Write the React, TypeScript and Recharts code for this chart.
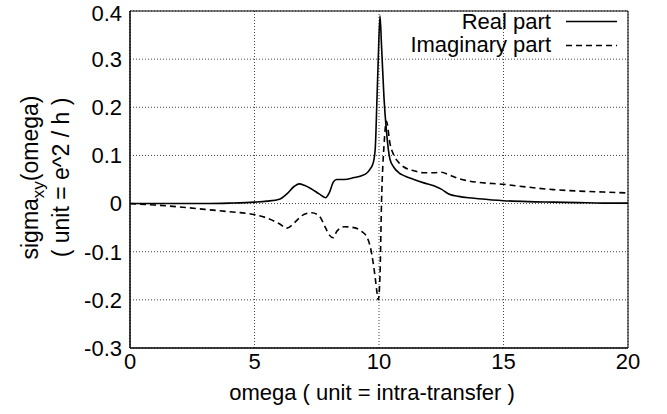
import {
  LineChart,
  Line,
  XAxis,
  YAxis,
  CartesianGrid,
  Legend,
  ReferenceArea,
} from 'recharts';

const omega = [
  0, 1, 2, 3, 4, 5, 5.5, 6, 6.3, 6.6, 6.8, 7.0, 7.3, 7.6, 7.85, 8.0, 8.17, 8.3,
  8.6, 9.0, 9.3, 9.5, 9.65, 9.77, 9.85, 9.92, 9.97, 10.04, 10.1, 10.2, 10.3,
  10.44, 10.6, 10.8, 11.0, 11.4, 11.8, 12.2, 12.5, 12.8, 13.2, 13.6, 14.0, 15.0,
  16.0, 17.0, 18.0, 19.0, 20.0,
];

const realPart = [
  0, 0, 0, 0, 0.001, 0.003, 0.005, 0.009, 0.02, 0.036, 0.041, 0.038, 0.03,
  0.02, 0.012, 0.022, 0.045, 0.05, 0.05, 0.054, 0.058, 0.063, 0.072, 0.085,
  0.115, 0.22, 0.3, 0.39, 0.33, 0.22, 0.15, 0.092, 0.075, 0.064, 0.058, 0.05,
  0.043, 0.037, 0.03, 0.02, 0.015, 0.012, 0.01, 0.006, 0.004, 0.003, 0.002,
  0.001, 0.001,
];

const imagPart = [
  0, -0.003, -0.007, -0.012, -0.017, -0.023, -0.03, -0.042, -0.051, -0.04,
  -0.03, -0.022, -0.019, -0.026, -0.05, -0.065, -0.071, -0.058, -0.048, -0.05,
  -0.058, -0.068, -0.09, -0.124, -0.155, -0.185, -0.2, -0.15, 0.0, 0.12, 0.171,
  0.125, 0.1, 0.085, 0.076, 0.068, 0.064, 0.064, 0.065, 0.06, 0.052, 0.047,
  0.044, 0.04, 0.034, 0.029, 0.026, 0.024, 0.022,
];

const xTicks = [0, 5, 10, 15, 20];
const yTicks = [-0.3, -0.2, -0.1, 0, 0.1, 0.2, 0.3, 0.4];

const series = [
  { key: 'real', name: 'Real part', dash: undefined as string | undefined },
  { key: 'imag', name: 'Imaginary part', dash: '6 4' },
];

const data = omega.map((w, i) => ({ omega: w, real: realPart[i], imag: imagPart[i] }));

const FONT = '"Liberation Sans", Arial, Helvetica, sans-serif';

function fmtY(v: number) {
  return v === 0 ? '0' : v.toFixed(1);
}

function LegendBox() {
  return (
    <svg width={260} height={60} style={{ fontFamily: FONT }}>
      {series.map((s, i) => (
        <g key={s.key}>
          <text x={171} y={29 + i * 23} textAnchor="end" fontSize={22} fill="#000">
            {s.name}
          </text>
          <line
            x1={186}
            x2={237}
            y1={21.5 + i * 24}
            y2={21.5 + i * 24}
            stroke="#000"
            strokeWidth={1.6}
            strokeDasharray={s.dash}
          />
        </g>
      ))}
    </svg>
  );
}

export default function App() {
  return (
    <div style={{ position: 'absolute', left: 0, top: 0, background: '#fff' }}>
      <LineChart
        width={667}
        height={414}
        data={data}
        margin={{ top: 11, right: 39, bottom: 0, left: 0 }}
        style={{ fontFamily: FONT }}
      >
        <CartesianGrid stroke="#444" strokeDasharray="1 2" />
        <XAxis
          dataKey="omega"
          type="number"
          domain={[0, 20]}
          ticks={xTicks}
          height={66}
          tickLine={false}
          tickSize={5}
          tickMargin={0}
          axisLine={{ stroke: '#000' }}
          tick={{ fontSize: 22, fill: '#000' }}
          label={{
            content: (props: any) => {
              const vb = props.viewBox || { x: 130, y: 348, width: 498, height: 66 };
              return (
                <text
                  x={vb.x + vb.width / 2 - 7}
                  y={vb.y + 52}
                  textAnchor="middle"
                  fontSize={22}
                  fill="#000"
                >
                  omega ( unit = intra-transfer )
                </text>
              );
            },
          }}
        />
        <YAxis
          type="number"
          domain={[-0.3, 0.4]}
          ticks={yTicks}
          width={130}
          tickLine={false}
          tickSize={4}
          tickMargin={4}
          tickFormatter={fmtY}
          axisLine={{ stroke: '#000' }}
          tick={{ fontSize: 22, fill: '#000' }}
          label={{
            content: (props: any) => {
              const vb = props.viewBox || { x: 0, y: 11, width: 130, height: 337 };
              const cy = vb.y + vb.height / 2 - 2;
              return (
                <g>
                  <text
                    transform={`translate(38, ${cy}) rotate(-90)`}
                    textAnchor="middle"
                    fontSize={23}
                    fill="#000"
                  >
                    sigma
                    <tspan dy={6} fontSize={17}>
                      xy
                    </tspan>
                    <tspan dy={-6}>(omega)</tspan>
                  </text>
                  <text
                    transform={`translate(69, ${cy}) rotate(-90)`}
                    textAnchor="middle"
                    fontSize={23}
                    fill="#000"
                  >
                    ( unit = e^2 / h )
                  </text>
                </g>
              );
            },
          }}
        />
        <ReferenceArea
          x1={xTicks[0]}
          x2={xTicks[xTicks.length - 1]}
          y1={yTicks[0]}
          y2={yTicks[yTicks.length - 1]}
          fill="none"
          stroke="#000"
          strokeWidth={1}
        />
        <Legend
          layout="horizontal"
          align="center"
          verticalAlign="middle"
          content={() => <LegendBox />}
          wrapperStyle={{ top: 0, left: 380, width: 260, height: 60 }}
        />
        {series.map((s) => (
          <Line
            key={s.key}
            dataKey={s.key}
            name={s.name}
            type="monotone"
            stroke="#000"
            strokeWidth={1.6}
            strokeDasharray={s.dash}
            dot={false}
            activeDot={false}
            isAnimationActive={false}
          />
        ))}
      </LineChart>
    </div>
  );
}
